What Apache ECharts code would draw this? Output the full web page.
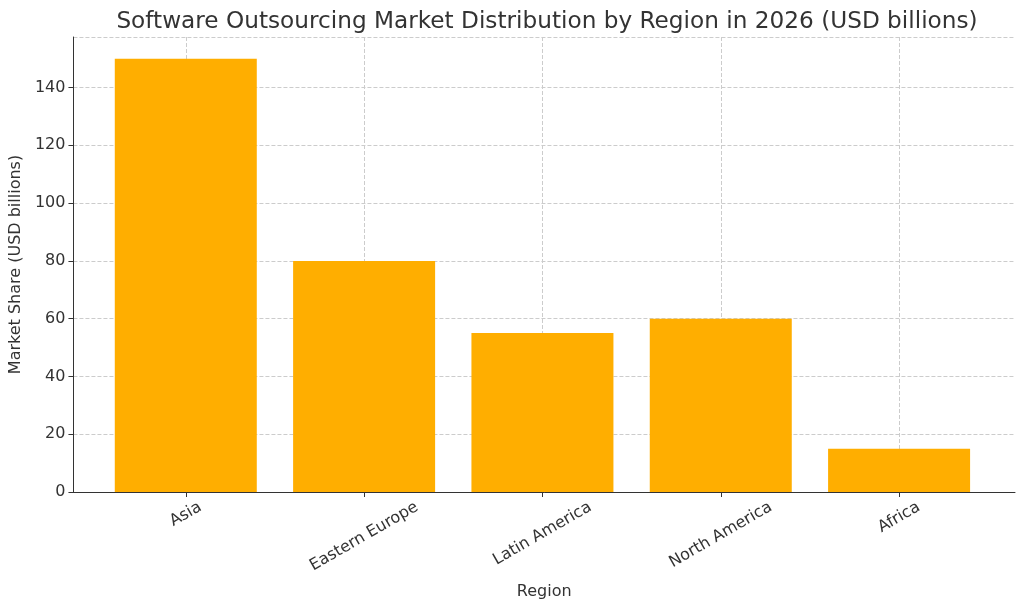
<!DOCTYPE html>
<html><head><meta charset="utf-8">
<script src="https://cdn.jsdelivr.net/npm/echarts@6/dist/echarts.min.js"></script>
<style>html,body{margin:0;padding:0;background:#fff}#c{width:1024px;height:611px}</style>
</head><body><div id="c"></div>
<script>
const categories = ["Asia", "Eastern Europe", "Latin America", "North America", "Africa"];
const values = [150, 80, 55, 60, 15];
const chart = echarts.init(document.getElementById('c'));
const font = 'DejaVu Sans';
const idx = categories.map((_, i) => i);
const ctx = document.createElement('canvas').getContext('2d');
ctx.font = '16px "' + font + '"';
const rich = {};
categories.forEach((c, i) => {
  const d = ctx.measureText(c).width / 4;
  rich['c' + i] = {fontFamily: font, fontSize: 16, color: '#333', padding: [1.73 * d, d, 0, 0]};
});
chart.setOption({
  animation: false,
  title: {text: 'Software Outsourcing Market Distribution by Region in 2026 (USD billions)', left: 542, top: 5, textAlign: 'center',
    textStyle: {fontFamily: font, fontSize: 23.2, fontWeight: 'normal', color: '#333'}},
  grid: {left: 72, right: 9, top: 37, bottom: 119},
  xAxis: {type: 'value', min: -0.63, max: 4.65, name: 'Region', nameLocation: 'middle', nameGap: 92,
    nameTextStyle: {fontFamily: font, fontSize: 16, color: '#333'},
    axisLine: {lineStyle: {color: '#333'}},
    axisTick: {customValues: idx, lineStyle: {color: '#333'}},
    axisLabel: {customValues: idx, formatter: v => { const i = Math.round(v); return categories[i] ? '{c' + i + '|' + categories[i] + '}' : ''; },
      rich: rich, rotate: 30, align: 'center', verticalAlign: 'middle',
      fontFamily: font, fontSize: 16, color: '#333', margin: 14},
    splitLine: {show: true, lineStyle: {type: 'dashed', color: '#ccc'}}},
  yAxis: {type: 'value', min: 0, max: 157.5, interval: 20, name: 'Market Share (USD billions)', nameLocation: 'middle', nameGap: 47,
    nameTextStyle: {fontFamily: font, fontSize: 16, color: '#333'},
    axisLine: {show: true, onZero: false, lineStyle: {color: '#333'}}, axisTick: {show: true, lineStyle: {color: '#333'}},
    axisLabel: {fontFamily: font, fontSize: 16, color: '#333', showMaxLabel: false},
    splitLine: {show: true, lineStyle: {type: 'dashed', color: '#ccc'}}},
  series: [{type: 'bar', data: values.map((v, i) => [i, v]), barWidth: 142, itemStyle: {color: '#FFAE00'}}]
});
</script></body></html>
